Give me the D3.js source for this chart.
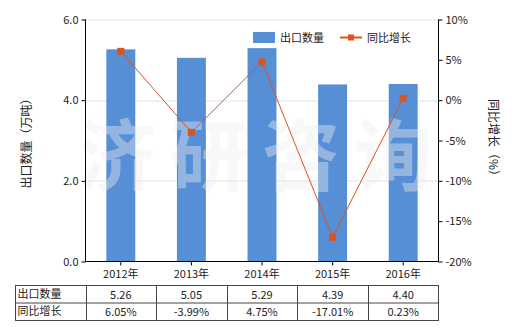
<!DOCTYPE html>
<html>
<head>
<meta charset="utf-8">
<script src="https://cdn.jsdelivr.net/npm/d3@7"></script>
<style>
  body { margin: 0; background: #fff; }
  text { font-family: "Noto Sans CJK SC", "Noto Sans", sans-serif; fill: #222; }
</style>
</head>
<body>
<div id="vis1"></div>
<script>
// chart data
const YEARS = ["2012年", "2013年", "2014年", "2015年", "2016年"];
const EXPORT_QTY = [5.26, 5.05, 5.29, 4.39, 4.40];
const YOY = [6.05, -3.99, 4.75, -17.01, 0.23];
const LEFT_TICKS = [0, 2, 4, 6];
const RIGHT_TICKS = [-20, -15, -10, -5, 0, 5, 10];

const FRAME_WIDTH = 520;
const FRAME_HEIGHT = 330;
const MARGINS = {left: 85.5, right: 81.5, top: 19.5, bottom: 68.5};
const VIS_WIDTH = FRAME_WIDTH - MARGINS.left - MARGINS.right;
const VIS_HEIGHT = FRAME_HEIGHT - MARGINS.top - MARGINS.bottom;

const FRAME1 = d3.select("#vis1")
                  .append("svg")
                    .attr("width", FRAME_WIDTH)
                    .attr("height", FRAME_HEIGHT);

const X_SCALE = d3.scaleBand()
                  .domain(YEARS)
                  .range([0, VIS_WIDTH])
                  .paddingInner(0.59)
                  .paddingOuter(0.295);
const Y_LEFT = d3.scaleLinear().domain([0, 6]).range([VIS_HEIGHT, 0]);
const Y_RIGHT = d3.scaleLinear().domain([-20, 10]).range([VIS_HEIGHT, 0]);

const G = FRAME1.append("g")
    .attr("transform", "translate(" + MARGINS.left + "," + MARGINS.top + ")");

// grid
G.selectAll(".grid")
  .data(LEFT_TICKS.filter(d => d > 0))
  .enter()
  .append("line")
    .attr("x1", 0).attr("x2", VIS_WIDTH)
    .attr("y1", d => Math.round(Y_LEFT(d)) + 0.5)
    .attr("y2", d => Math.round(Y_LEFT(d)) + 0.5)
    .attr("stroke", "#e3e3e3");

// bars
G.selectAll(".bar")
  .data(EXPORT_QTY)
  .enter()
  .append("rect")
    .attr("x", (d, i) => X_SCALE(YEARS[i]))
    .attr("y", d => Y_LEFT(d))
    .attr("width", X_SCALE.bandwidth())
    .attr("height", d => VIS_HEIGHT - Y_LEFT(d))
    .attr("fill", "#568fd6");

// watermark
G.append("text")
  .attr("x", VIS_WIDTH / 2)
  .attr("y", 165)
  .attr("text-anchor", "middle")
  .style("font-size", "78px")
  .style("font-weight", "bold")
  .style("letter-spacing", "14px")
  .style("fill", "#eeeeee")
  .style("opacity", 0.4)
  .text("济研咨询");

// line
const LINE = d3.line()
  .x((d, i) => X_SCALE(YEARS[i]) + X_SCALE.bandwidth() / 2)
  .y(d => Y_RIGHT(d));

G.append("path")
  .datum(YOY)
  .attr("d", LINE)
  .attr("fill", "none")
  .attr("stroke", "#d9541e")
  .attr("stroke-width", 1);

G.selectAll(".pt")
  .data(YOY)
  .enter()
  .append("rect")
    .attr("x", (d, i) => X_SCALE(YEARS[i]) + X_SCALE.bandwidth() / 2 - 3.5)
    .attr("y", d => Y_RIGHT(d) - 3.5)
    .attr("width", 7)
    .attr("height", 7)
    .attr("fill", "#d9541e");

// axes
const leftAxis = G.append("g")
  .call(d3.axisLeft(Y_LEFT).tickValues(LEFT_TICKS).tickFormat(d3.format(".1f")).tickSize(4));
const rightAxis = G.append("g")
  .attr("transform", "translate(" + VIS_WIDTH + ",0)")
  .call(d3.axisRight(Y_RIGHT).tickValues(RIGHT_TICKS).tickFormat(d => d + "%").tickSize(4));
const bottomAxis = G.append("g")
  .attr("transform", "translate(0," + VIS_HEIGHT + ")")
  .call(d3.axisBottom(X_SCALE).tickSize(4));

[leftAxis, rightAxis, bottomAxis].forEach(a => {
  a.selectAll("path, line").attr("stroke", "#000");
  a.selectAll("text").style("font-size", "11px").style("fill", "#222");
});
bottomAxis.select(".domain").attr("d", "M0,0H" + VIS_WIDTH);
leftAxis.select(".domain").attr("d", "M0,0V" + VIS_HEIGHT);
rightAxis.select(".domain").attr("d", "M0,0V" + VIS_HEIGHT);
bottomAxis.selectAll("text").attr("dy", "0.9em");

// axis titles
FRAME1.append("text")
  .attr("transform", "translate(31," + (MARGINS.top + VIS_HEIGHT / 2) + ") rotate(-90)")
  .attr("text-anchor", "middle")
  .style("font-size", "12px")
  .text("出口数量（万吨）");
FRAME1.append("text")
  .attr("transform", "translate(489," + (MARGINS.top + VIS_HEIGHT / 2) + ") rotate(90)")
  .attr("text-anchor", "middle")
  .style("font-size", "12px")
  .text("同比增长（%）");

// legend
const LEG = FRAME1.append("g");
LEG.append("rect").attr("x", 253).attr("y", 32).attr("width", 22).attr("height", 11).attr("fill", "#568fd6");
LEG.append("text").attr("x", 280).attr("y", 42).style("font-size", "11px").text("出口数量");
LEG.append("line").attr("x1", 340).attr("x2", 362).attr("y1", 37.5).attr("y2", 37.5)
   .attr("stroke", "#d9541e").attr("stroke-width", 2);
LEG.append("rect").attr("x", 348).attr("y", 34.5).attr("width", 6).attr("height", 6).attr("fill", "#d9541e");
LEG.append("text").attr("x", 367).attr("y", 42).style("font-size", "11px").text("同比增长");

// data table
const TABLE_TOP = 285.5;
const ROW_H = 17.5;
const TABLE_LEFT = 15.5;
const ROWS = [
  {label: "出口数量", vals: EXPORT_QTY.map(d => d.toFixed(2))},
  {label: "同比增长", vals: YOY.map(d => d.toFixed(2) + "%")}
];
const T = FRAME1.append("g");
const tableRight = MARGINS.left + VIS_WIDTH;
T.append("rect")
  .attr("x", TABLE_LEFT).attr("y", TABLE_TOP)
  .attr("width", tableRight - TABLE_LEFT).attr("height", ROW_H * 2)
  .attr("fill", "none").attr("stroke", "#444");
T.append("line")
  .attr("x1", TABLE_LEFT).attr("x2", tableRight)
  .attr("y1", TABLE_TOP + ROW_H).attr("y2", TABLE_TOP + ROW_H)
  .attr("stroke", "#444");
const colEdges = [MARGINS.left].concat(YEARS.slice(1).map(y => MARGINS.left + X_SCALE(y) - X_SCALE.step() * X_SCALE.paddingInner() / 2));
T.selectAll(".col")
  .data(colEdges)
  .enter()
  .append("line")
    .attr("x1", d => Math.round(d) + 0.5).attr("x2", d => Math.round(d) + 0.5)
    .attr("y1", TABLE_TOP).attr("y2", TABLE_TOP + ROW_H * 2)
    .attr("stroke", "#444");
ROWS.forEach((r, ri) => {
  const ty = TABLE_TOP + ROW_H * ri + 13;
  T.append("text").attr("x", TABLE_LEFT + 2).attr("y", ty - 1).style("font-size", "11px").text(r.label);
  T.selectAll(".v" + ri)
    .data(r.vals)
    .enter()
    .append("text")
      .attr("x", (d, i) => MARGINS.left + X_SCALE(YEARS[i]) + X_SCALE.bandwidth() / 2)
      .attr("y", ty)
      .attr("text-anchor", "middle")
      .style("font-size", "11px")
      .text(d => d);
});
</script>
</body>
</html>
